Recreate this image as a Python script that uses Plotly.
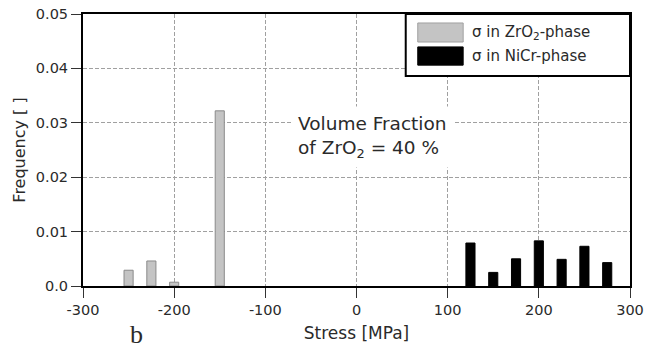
import plotly.graph_objects as go

# Stress histogram bins (MPa) and frequencies per phase
zro2_stress = [-250, -225, -200, -150]
zro2_freq = [0.0029, 0.0046, 0.0007, 0.0322]

nicr_stress = [125, 150, 175, 200, 225, 250, 275]
nicr_freq = [0.0079, 0.0025, 0.0050, 0.0083, 0.0049, 0.0073, 0.0043]

x_ticks = [-300, -200, -100, 0, 100, 200, 300]
x_ticklabels = ["-300", "-200", "-100", "0", "100", "200", "300"]
y_ticks = [0.0, 0.01, 0.02, 0.03, 0.04, 0.05]
y_ticklabels = ["0.0", "0.01", "0.02", "0.03", "0.04", "0.05"]

legend_labels = ["σ in ZrO<sub>2</sub>-phase", "σ in NiCr-phase"]
gray = "#c4c4c4"
font = "DejaVu Sans, Verdana, sans-serif"
text_color = "#2a2a2a"

fig = go.Figure()
fig.add_trace(go.Bar(x=zro2_stress, y=zro2_freq, width=10,
                     marker=dict(color=gray, line=dict(color="#8a8a8a", width=1)),
                     showlegend=False))
fig.add_trace(go.Bar(x=nicr_stress, y=nicr_freq, width=10,
                     marker=dict(color="black", line=dict(color="black", width=1)),
                     showlegend=False))

axis_common = dict(
    showline=True, mirror=True, linecolor="black", linewidth=2,
    ticks="outside", ticklen=10, tickcolor="#333", tickwidth=1,
    showgrid=True, gridcolor="#a0a0a0", griddash="4px,2px", gridwidth=1,
    zeroline=False, automargin=False,
    tickfont=dict(family=font, size=14.5, color=text_color),
)

fig.update_xaxes(range=[-300, 300], tickvals=x_ticks, ticktext=x_ticklabels,
                 title=dict(text="Stress [MPa]", font=dict(family=font, size=17, color=text_color), standoff=10),
                 **axis_common)
fig.update_yaxes(range=[0, 0.05], tickvals=y_ticks, ticktext=y_ticklabels,
                 title=dict(text="Frequency [ ]", font=dict(family=font, size=16, color=text_color), standoff=6),
                 **axis_common)

# Legend box drawn in paper coordinates
fig.add_shape(type="rect", xref="paper", yref="paper", x0=0.590, x1=1.0, y0=0.772, y1=1.0,
              line=dict(color="black", width=2), fillcolor="white", layer="above")
fig.add_shape(type="rect", xref="paper", yref="paper", x0=0.612, x1=0.695, y0=0.897, y1=0.967,
              line=dict(color="#a0a0a0", width=1), fillcolor=gray, layer="above")
fig.add_shape(type="rect", xref="paper", yref="paper", x0=0.612, x1=0.695, y0=0.812, y1=0.879,
              line=dict(color="black", width=1), fillcolor="black", layer="above")
for label, yy in zip(legend_labels, [0.932, 0.847]):
    fig.add_annotation(text=label, xref="paper", yref="paper", x=0.707, y=yy,
                       xanchor="left", yanchor="middle", showarrow=False,
                       font=dict(family=font, size=15, color=text_color))

# Volume fraction note
fig.add_annotation(text="Volume Fraction<br>of ZrO<sub>2</sub> = 40 %", x=-72, y=0.0331,
                   xanchor="left", yanchor="top", align="left", showarrow=False,
                   bgcolor="white", borderpad=6,
                   font=dict(family=font, size=18.5, color=text_color))

# Panel letter
fig.add_annotation(text="b", xref="paper", yref="paper", x=0.098, y=-0.18,
                   xanchor="center", yanchor="middle", showarrow=False,
                   font=dict(family="Liberation Serif, Times New Roman, serif", size=26, color=text_color))

fig.update_layout(width=647, height=351, margin=dict(l=83, r=17, t=14, b=65),
                  plot_bgcolor="white", paper_bgcolor="white", barmode="overlay",
                  showlegend=False)

fig.write_html("out.html")
